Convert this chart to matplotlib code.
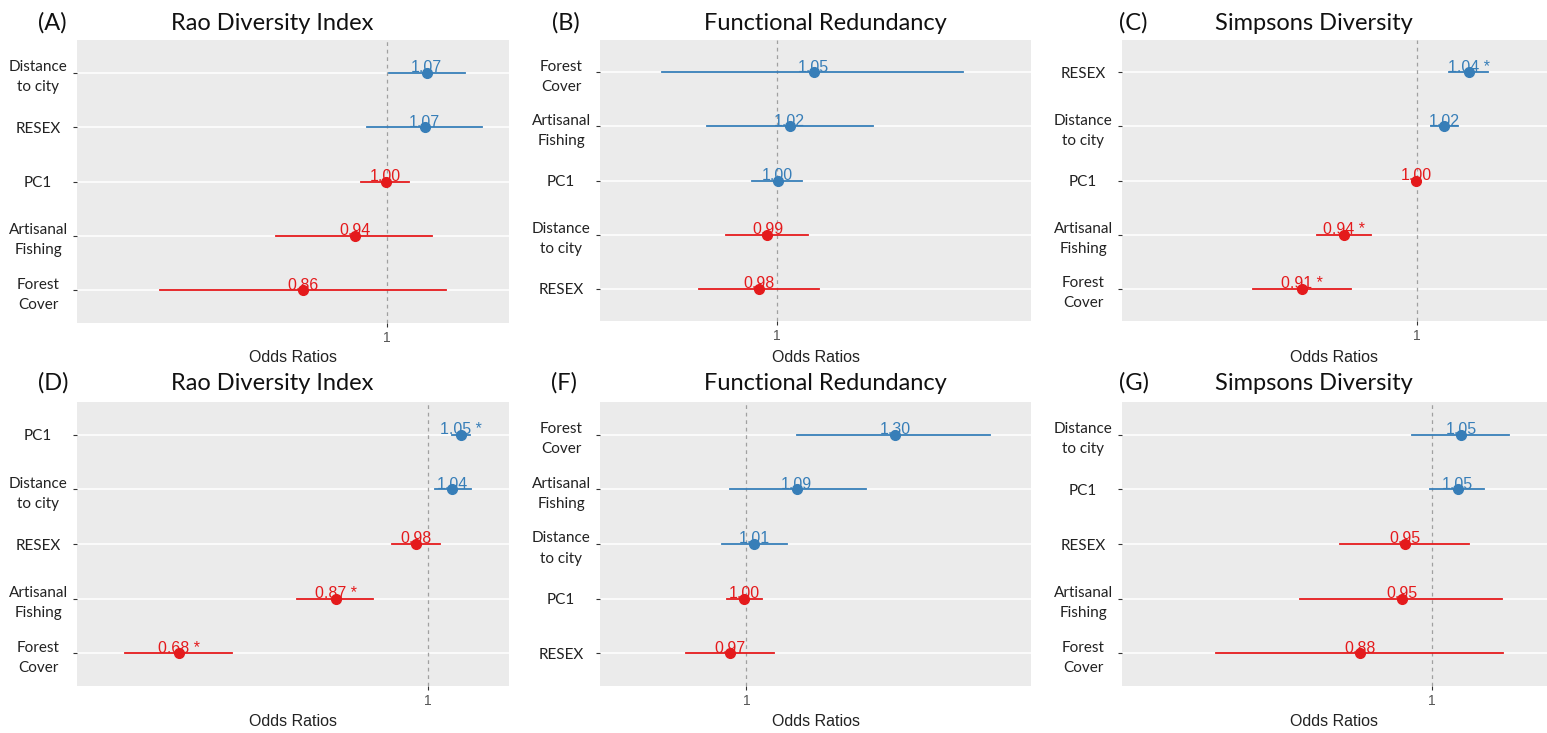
import matplotlib
matplotlib.use("Agg")
import matplotlib.pyplot as plt
from matplotlib.ticker import NullLocator

# odds ratios (rows listed top to bottom)
terms_a = ["Distance\nto city", "RESEX", "PC1", "Artisanal\nFishing", "Forest\nCover"]
or_a = [1.074, 1.070, 0.998, 0.944, 0.861]
lo_a = [1.004, 0.965, 0.955, 0.820, 0.667]
hi_a = [1.149, 1.185, 1.040, 1.084, 1.111]
sig_a = ["", "", "", "", ""]

terms_b = ["Forest\nCover", "Artisanal\nFishing", "PC1", "Distance\nto city", "RESEX"]
or_b = [1.049, 1.017, 1.001, 0.988, 0.977]
lo_b = [0.862, 0.914, 0.968, 0.936, 0.904]
hi_b = [1.273, 1.133, 1.033, 1.041, 1.056]
sig_b = ["", "", "", "", ""]

terms_c = ["RESEX", "Distance\nto city", "PC1", "Artisanal\nFishing", "Forest\nCover"]
or_c = [1.043, 1.022, 0.999, 0.942, 0.911]
lo_c = [1.026, 1.011, 0.997, 0.922, 0.875]
hi_c = [1.059, 1.034, 1.002, 0.963, 0.948]
sig_c = ["*", "", "", "*", "*"]

terms_d = ["PC1", "Distance\nto city", "RESEX", "Artisanal\nFishing", "Forest\nCover"]
or_d = [1.052, 1.038, 0.982, 0.867, 0.680]
lo_d = [1.038, 1.011, 0.946, 0.816, 0.625]
hi_d = [1.067, 1.069, 1.019, 0.918, 0.738]
sig_d = ["*", "", "", "*", "*"]

terms_f = ["Forest\nCover", "Artisanal\nFishing", "Distance\nto city", "PC1", "RESEX"]
or_f = [1.297, 1.092, 1.014, 0.996, 0.972]
lo_f = [1.092, 0.972, 0.959, 0.966, 0.900]
hi_f = [1.532, 1.232, 1.073, 1.027, 1.049]
sig_f = ["", "", "", "", ""]

terms_g = ["Distance\nto city", "PC1", "RESEX", "Artisanal\nFishing", "Forest\nCover"]
or_g = [1.053, 1.047, 0.953, 0.948, 0.880]
lo_g = [0.965, 0.996, 0.850, 0.792, 0.682]
hi_g = [1.146, 1.096, 1.068, 1.132, 1.134]
sig_g = ["", "", "", "", ""]

titles = ["Rao Diversity Index", "Functional Redundancy", "Simpsons Diversity"] * 2
tags = ["(A)", "(B)", "(C)", "(D)", "(F)", "(G)"]

W, H = 1547, 733
BLUE = "#377EB8"
RED = "#E41A1C"

fig = plt.figure(figsize=(W / 100, H / 100), dpi=100)

# pixel boxes (left, top, right, bottom), x range, title/tag centres
panels = [
    (terms_a, or_a, lo_a, hi_a, sig_a, (77, 40, 509, 323), (0.575, 1.244), 272, 52),
    (terms_b, or_b, lo_b, hi_b, sig_b, (600, 40, 1031, 321), (0.795, 1.391), 825, 566),
    (terms_c, or_c, lo_c, hi_c, sig_c, (1122, 40, 1547, 321), (0.787, 1.111), 1314, 1133),
    (terms_d, or_d, lo_d, hi_d, sig_d, (77, 402, 509, 686), (0.580, 1.134), 272, 53),
    (terms_f, or_f, lo_f, hi_f, sig_f, (600, 402, 1031, 686), (0.774, 1.646), 825, 564),
    (terms_g, or_g, lo_g, hi_g, sig_g, (1122, 402, 1547, 686), (0.578, 1.226), 1314, 1134),
]

for i, (terms, ors, los, his, sigs, box, xr, tx, gx) in enumerate(panels):
    l, t, r, b = box
    ax = fig.add_axes([l / W, 1 - b / H, (r - l) / W, (b - t) / H])
    ax.set_facecolor("#EBEBEB")
    for s in ax.spines.values():
        s.set_visible(False)
    ax.set_xscale("log")
    ax.set_xlim(*xr)
    n = len(terms)
    ys = list(range(n, 0, -1))
    ax.set_ylim(0.4, n + 0.6)
    ax.set_yticks(ys)
    ax.set_yticklabels(terms, family="Lato", fontsize=11, color="#222222",
                       ha="center", linespacing=1.55)
    ax.tick_params(axis="y", length=3, width=0.8, color="#333333", pad=25)
    ax.set_xticks([1])
    ax.set_xticklabels(["1"], family="Liberation Sans", fontsize=10, color="#555555")
    ax.xaxis.set_minor_locator(NullLocator())
    ax.tick_params(axis="x", length=3, width=0.8, color="#333333", pad=3)
    ax.grid(axis="y", color="white", linewidth=1.1)
    ax.set_axisbelow(True)
    ax.axvline(1, color="#A0A0A0", linestyle=(0, (3, 3)), linewidth=0.9, zorder=1)

    for y, v, lo, hi, sg in zip(ys, ors, los, his, sigs):
        c = BLUE if v > 1 else RED
        ax.plot([lo, hi], [y, y], color=c, linewidth=1.3, zorder=3)
        ax.plot(v, y, "o", color=c, markersize=7, zorder=4)
        lab = f"{v:.2f}" + (" *" if sg else "")
        ax.text(v, y + 0.01, lab, color=c, ha="center", va="baseline",
                family="Liberation Sans", fontsize=11.5, zorder=5)

    ty = 23 if i < 3 else 383
    fig.text(tx / W, 1 - ty / H, titles[i], family="Lato", fontsize=17,
             ha="center", va="center", color="#111111")
    fig.text(gx / W, 1 - ty / H, tags[i], family="Lato", fontsize=17,
             ha="center", va="center", color="#111111")
    ly = 357 if i < 3 else 721
    fig.text(((l + r) / 2) / W, 1 - ly / H, "Odds Ratios", family="Liberation Sans",
             fontsize=11.5, ha="center", va="center", color="#222222")

fig.savefig("out.png", dpi=100, facecolor="white")
